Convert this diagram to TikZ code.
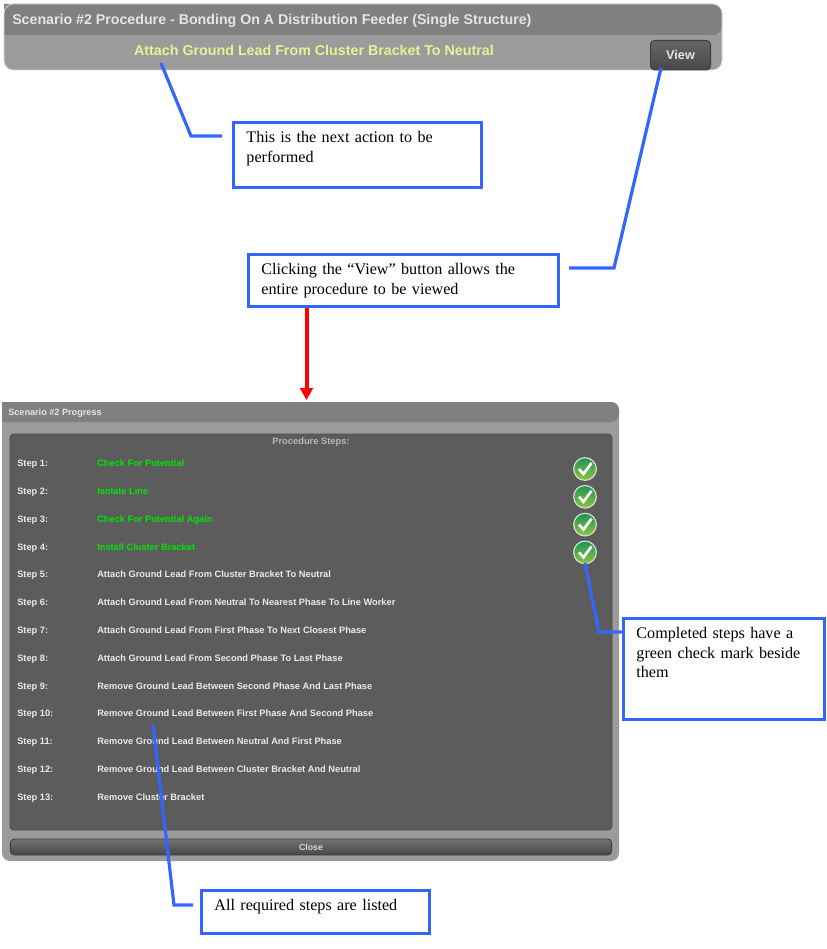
\documentclass[tikz,border=0pt]{standalone}
\usepackage{fontspec}
\setmainfont{Liberation Serif}
\newfontfamily\uifont{Liberation Sans}[Scale=1.0]
\usetikzlibrary{arrows.meta}
\definecolor{calloutblue}{HTML}{3366FF}
\definecolor{paneldark}{HTML}{808080}
\definecolor{panellight}{HTML}{9B9B9B}
\definecolor{panelinner}{HTML}{5C5C5C}
\definecolor{actionyellow}{HTML}{E6F296}
\definecolor{stepgreen}{HTML}{00E600}
\definecolor{steptextgrey}{HTML}{EAEAEA}
\definecolor{checktop}{HTML}{1B9450}
\definecolor{checkbottom}{HTML}{8DC63F}
\tikzset{
  callout/.style={draw=calloutblue,line width=2.4pt,line join=miter},
  notebox/.style={draw=calloutblue,line width=2.4pt,fill=white,anchor=north west,align=left,
    inner xsep=10pt,inner ysep=6.2pt,text height=9pt,font=\fontsize{12.1}{14.6}\selectfont},
  uilabel/.style={font=\uifont\bfseries\fontsize{#1}{#1}\selectfont,inner sep=0pt},
  steplabel/.style={uilabel=6.95,anchor=base west},
  checkmark/.style={circle,draw=white!85!black,line width=0.9pt,minimum size=17pt,inner sep=0pt,
    top color=checktop,bottom color=checkbottom}
}
\begin{document}
\begin{tikzpicture}[x=0.75pt,y=-0.75pt]
\useasboundingbox (0,0) rectangle (827,949);

% top bar
\fill[panellight,rounded corners=7pt] (4,4) rectangle (722,70);
\fill[paneldark,rounded corners=7pt] (4,4) -- (722,4) -- (722,35) [sharp corners] -- (4,35) -- cycle;
\draw[white!85!black,line width=0.6pt,rounded corners=7pt] (4,4) rectangle (722,70);
\node[uilabel=10.65,anchor=base west,text=white!90!black] (bartitle) at (12,25) {Scenario \#2 Procedure - Bonding On A Distribution Feeder (Single Structure)};
\node[uilabel=10.7,anchor=base,text=actionyellow] (nextaction) at (314,56) {Attach Ground Lead From Cluster Bracket To Neutral};
\node[draw=black!75,line width=0.8pt,rounded corners=3pt,top color=black!60,bottom color=black!72,
  minimum width=45pt,minimum height=22pt,inner sep=0pt,anchor=north west,text=white!90!black,
  font=\uifont\bfseries\fontsize{9.5}{9.5}\selectfont] (viewbtn) at (650,40) {View};

% progress window
\fill[panellight,rounded corners=6pt] (2,402) rectangle (619,861);
\fill[paneldark,rounded corners=6pt] (2,402) -- (619,402) -- (619,422) [sharp corners] -- (2,422) -- cycle;
\node[uilabel=6.85,anchor=base west,text=white!90!black] (progtitle) at (8,415) {Scenario \#2 Progress};
\filldraw[fill=panelinner,draw=black!70,line width=0.7pt,rounded corners=3pt] (10,434) rectangle (612,830);
\node[uilabel=7,text=white!72!black] (prochead) at (311,442.5) {Procedure Steps:};
\node[draw=black!75,line width=0.7pt,rounded corners=3pt,top color=black!55,bottom color=black!72,
  minimum width=451pt,minimum height=12pt,inner sep=0pt,text=white!85!black,
  font=\uifont\bfseries\fontsize{6.6}{6.6}\selectfont] (closebtn) at (311,847) {Close};

\foreach \n/\txt/\col in {1/Check For Potential/stepgreen,2/Isolate Line/stepgreen,
  3/Check For Potential Again/stepgreen,4/Install Cluster Bracket/stepgreen,
  5/Attach Ground Lead From Cluster Bracket To Neutral/steptextgrey,
  6/Attach Ground Lead From Neutral To Nearest Phase To Line Worker/steptextgrey,
  7/Attach Ground Lead From First Phase To Next Closest Phase/steptextgrey,
  8/Attach Ground Lead From Second Phase To Last Phase/steptextgrey,
  9/Remove Ground Lead Between Second Phase And Last Phase/steptextgrey,
  10/Remove Ground Lead Between First Phase And Second Phase/steptextgrey,
  11/Remove Ground Lead Between Neutral And First Phase/steptextgrey,
  12/Remove Ground Lead Between Cluster Bracket And Neutral/steptextgrey,
  13/Remove Cluster Bracket/steptextgrey} {
  \pgfmathsetmacro{\ypos}{466.6+27.8*(\n-1)}
  \node[steplabel,text=steptextgrey] (stepnum\n) at (17,\ypos) {Step \n:};
  \node[steplabel,text=\col] (steptext\n) at (97,\ypos) {\txt};
}

% check marks
\foreach \n in {1,...,4} {
  \pgfmathsetmacro{\ypos}{469+27.8*(\n-1)}
  \node[checkmark] (check\n) at (585,\ypos) {};
  \draw[white,line width=2pt] ([shift={(-6,0)}]check\n.center) -- ([shift={(-1.5,5)}]check\n.center) -- ([shift={(6.5,-6)}]check\n.center);
}

% notes
\node[notebox,text width=166pt,text depth=27pt] (noteaction) at (231.5,121) {This is the next action to be\\performed};
\node[notebox,text width=213pt,text depth=17.5pt] (noteview) at (246.5,253) {Clicking the ``View'' button allows the\\entire procedure to be viewed};
\node[notebox,text width=131pt,text depth=54pt] (notedone) at (621.5,617) {Completed steps have a\\green check mark beside\\them};
\node[notebox,text width=151pt,text depth=10.5pt] (notesteps) at (199.5,889) {All required steps are listed};

% callout lines
\coordinate (actiontip) at (161,63);
\coordinate (actionbend) at (191,136);
\coordinate (actionend) at (222,136);
\draw[callout] (actiontip) -- (actionbend) -- (actionend);
\coordinate (viewtip) at (661,68);
\coordinate (viewbend) at (614,268);
\coordinate (viewend) at (569,268);
\draw[callout] (viewtip) -- (viewbend) -- (viewend);
\coordinate (donetip) at (585,563);
\coordinate (donebend) at (599,632);
\coordinate (doneend) at (622,632);
\draw[callout] (donetip) -- (donebend) -- (doneend);
\coordinate (stepstip) at (153,725);
\coordinate (stepsbend) at (174,905);
\coordinate (stepsend) at (193,905);
\draw[callout] (stepstip) -- (stepsbend) -- (stepsend);

\coordinate (windowtop) at (306.5,400);
\draw[red,line width=3pt,-{Triangle[length=9pt,width=9.5pt]}] (noteview.south -| windowtop) -- (windowtop);
\end{tikzpicture}
\end{document}
